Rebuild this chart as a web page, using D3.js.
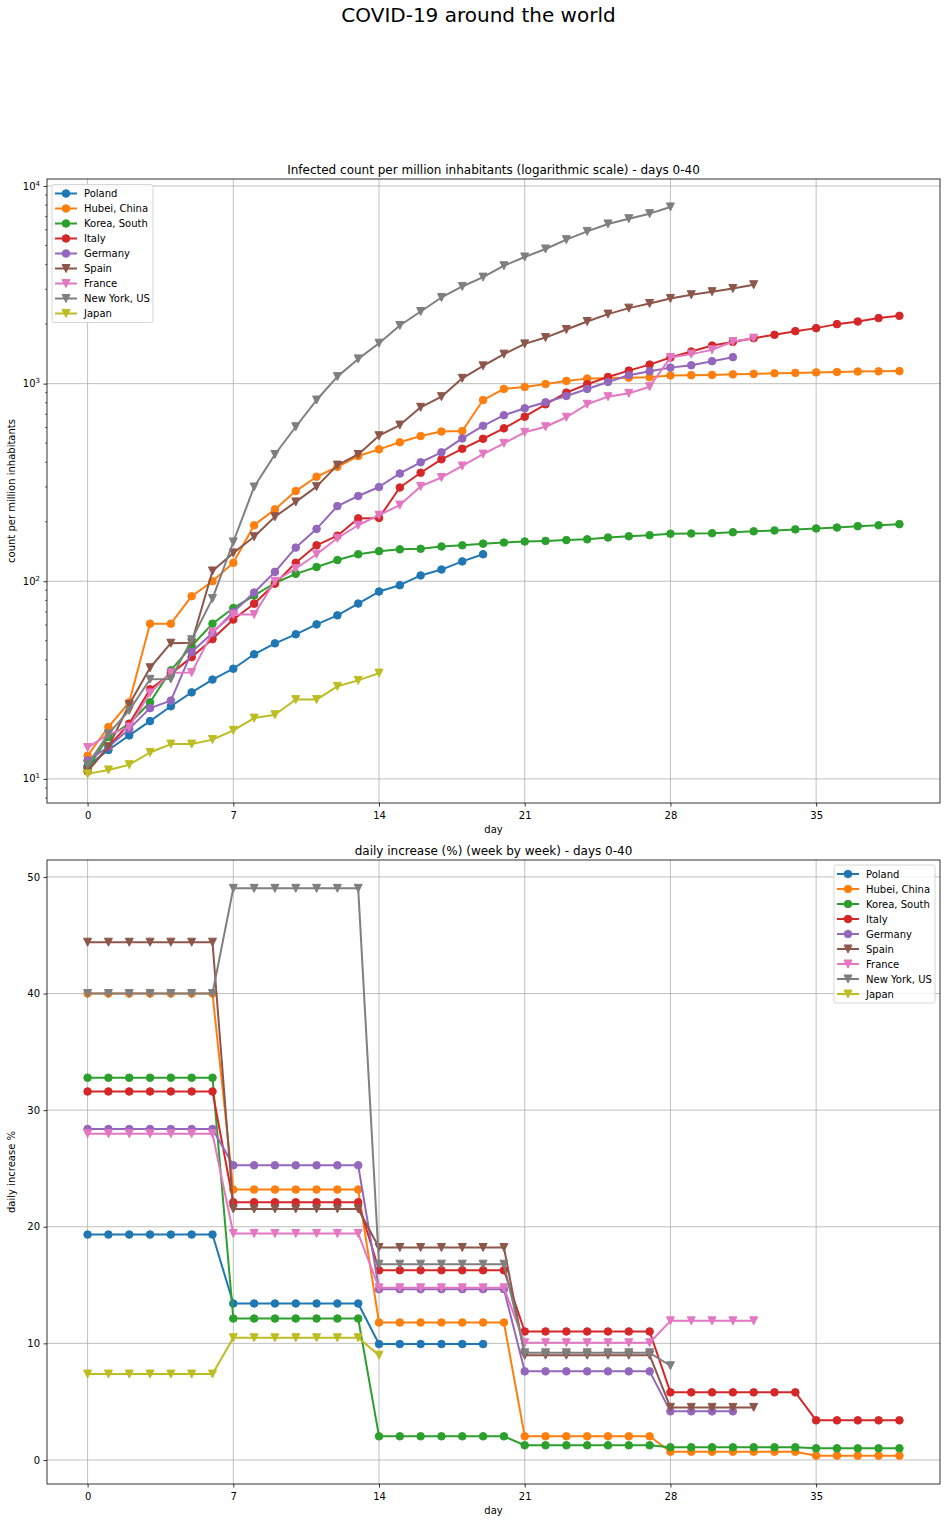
<!DOCTYPE html>
<html><head><meta charset="utf-8">
<script src="https://cdn.jsdelivr.net/npm/d3@7/dist/d3.min.js"></script>
<style>body{margin:0;background:#fff} text{font-family:"DejaVu Sans",sans-serif;fill:#000}</style>
</head><body>
<svg id="chart" width="947" height="1522" xmlns="http://www.w3.org/2000/svg"></svg>
<script>
// ---------------- DATA ----------------
const countries = ["Poland", "Hubei, China", "Korea, South", "Italy", "Germany", "Spain", "France", "New York, US", "Japan"];

// infected count per million inhabitants, index = day
const casesPoland  = [11.6, 14.0, 16.6, 19.6, 23.3, 27.4, 31.8, 36.1, 42.7, 48.5, 53.9, 60.5, 67.2, 77.1, 88.7, 95.5, 107, 114.6, 126, 137];
const casesHubei   = [13.1, 18.3, 24.4, 61.0, 61.0, 84, 100, 124, 192, 231, 286, 338, 379, 430, 465, 505, 543, 572, 576, 826, 940, 962, 995, 1032, 1060, 1068, 1072, 1077, 1100, 1104, 1107, 1114, 1120, 1128, 1133, 1140, 1145, 1151, 1154, 1157];
const casesKorea   = [11.3, 16.3, 19.0, 24.4, 35.4, 47, 61, 73.2, 84.6, 98, 109, 118, 128, 137, 142, 145, 146, 150, 152, 155, 157, 159, 160, 161.5, 163, 166.5, 169, 171, 174, 174.5, 175, 177, 179, 180.7, 183, 185, 187, 190, 192, 194.5];
const casesItaly   = [10.9, 14.6, 19.0, 28.4, 34, 41.3, 51, 64, 77, 97.2, 124, 152, 170, 208, 209, 298, 354, 414, 468, 526, 594, 680, 786, 900, 993, 1081, 1164, 1248, 1355, 1453, 1558, 1626, 1698, 1766, 1843, 1909, 2000, 2062, 2146, 2203];
const casesGermany = [12.4, 14.5, 17.9, 22.8, 24.9, 43.8, 54.7, 69.9, 87.7, 111.5, 148, 184, 240, 270, 300, 351, 400, 449, 528, 612, 692, 750, 805, 866, 940, 1020, 1103, 1156, 1205, 1239, 1299, 1361];
const casesSpain   = [11.0, 14.5, 23.8, 36.5, 48.6, 48.8, 112.7, 139, 168, 212, 252, 301, 387, 438, 545, 617, 759, 859, 1064, 1230, 1410, 1589, 1710, 1878, 2062, 2248, 2410, 2544, 2697, 2816, 2918, 3030, 3165];
const casesFrance  = [14.4, 16.8, 18.3, 27.2, 34.4, 34.5, 55.3, 67.8, 67.9, 100, 116, 137, 165, 192, 216, 243, 302, 335, 383, 440, 499, 567, 605, 676, 786, 859, 893, 965, 1355, 1410, 1482, 1633, 1698];
const casesNewYork = [11.8, 16.9, 22.2, 31.9, 32.0, 50.6, 81.7, 158, 300, 438, 605, 826, 1085, 1334, 1602, 1968, 2317, 2729, 3102, 3459, 3950, 4372, 4800, 5350, 5893, 6426, 6834, 7245, 7834];
const casesJapan   = [10.6, 11.1, 11.8, 13.6, 15.0, 15.0, 15.8, 17.6, 20.3, 21.1, 25.2, 25.2, 29.4, 31.5, 34.3];

// daily increase % (week by week), index = day
const ratePoland  = [19.33, 19.33, 19.33, 19.33, 19.33, 19.33, 19.33, 13.42, 13.42, 13.42, 13.42, 13.42, 13.42, 13.42, 9.94, 9.94, 9.94, 9.94, 9.94, 9.94];
const rateHubei   = [40.0, 40.0, 40.0, 40.0, 40.0, 40.0, 40.0, 23.19, 23.19, 23.19, 23.19, 23.19, 23.19, 23.19, 11.79, 11.79, 11.79, 11.79, 11.79, 11.79, 11.79, 2.03, 2.03, 2.03, 2.03, 2.03, 2.03, 2.03, 0.71, 0.71, 0.71, 0.71, 0.71, 0.71, 0.71, 0.37, 0.37, 0.37, 0.37, 0.37];
const rateKorea   = [32.78, 32.78, 32.78, 32.78, 32.78, 32.78, 32.78, 12.13, 12.13, 12.13, 12.13, 12.13, 12.13, 12.13, 2.03, 2.03, 2.03, 2.03, 2.03, 2.03, 2.03, 1.26, 1.26, 1.26, 1.26, 1.26, 1.26, 1.26, 1.09, 1.09, 1.09, 1.09, 1.09, 1.09, 1.09, 1.0, 1.0, 1.0, 1.0, 1.0];
const rateItaly   = [31.6, 31.6, 31.6, 31.6, 31.6, 31.6, 31.6, 22.1, 22.1, 22.1, 22.1, 22.1, 22.1, 22.1, 16.27, 16.27, 16.27, 16.27, 16.27, 16.27, 16.27, 11.02, 11.02, 11.02, 11.02, 11.02, 11.02, 11.02, 5.8, 5.8, 5.8, 5.8, 5.8, 5.8, 5.8, 3.4, 3.4, 3.4, 3.4, 3.4];
const rateGermany = [28.38, 28.38, 28.38, 28.38, 28.38, 28.38, 28.38, 25.27, 25.27, 25.27, 25.27, 25.27, 25.27, 25.27, 14.65, 14.65, 14.65, 14.65, 14.65, 14.65, 14.65, 7.6, 7.6, 7.6, 7.6, 7.6, 7.6, 7.6, 4.17, 4.17, 4.17, 4.17];
const rateSpain   = [44.4, 44.4, 44.4, 44.4, 44.4, 44.4, 44.4, 21.53, 21.53, 21.53, 21.53, 21.53, 21.53, 21.53, 18.22, 18.22, 18.22, 18.22, 18.22, 18.22, 18.22, 8.99, 8.99, 8.99, 8.99, 8.99, 8.99, 8.99, 4.51, 4.51, 4.51, 4.51, 4.51];
const rateFrance  = [27.98, 27.98, 27.98, 27.98, 27.98, 27.98, 27.98, 19.42, 19.42, 19.42, 19.42, 19.42, 19.42, 19.42, 14.76, 14.76, 14.76, 14.76, 14.76, 14.76, 14.76, 10.05, 10.05, 10.05, 10.05, 10.05, 10.05, 10.05, 11.93, 11.93, 11.93, 11.93, 11.93];
const rateNewYork = [40.0, 40.0, 40.0, 40.0, 40.0, 40.0, 40.0, 49.02, 49.02, 49.02, 49.02, 49.02, 49.02, 49.02, 16.79, 16.79, 16.79, 16.79, 16.79, 16.79, 16.79, 9.19, 9.19, 9.19, 9.19, 9.19, 9.19, 9.19, 8.08];
const rateJapan   = [7.37, 7.37, 7.37, 7.37, 7.37, 7.37, 7.37, 10.48, 10.48, 10.48, 10.48, 10.48, 10.48, 10.48, 8.99];

const dayTicks  = [0, 7, 14, 21, 28, 35];
const logTicks  = [10, 100, 1000, 10000];
const rateTicks = [0, 10, 20, 30, 40, 50];

const casesSeries = [casesPoland, casesHubei, casesKorea, casesItaly, casesGermany, casesSpain, casesFrance, casesNewYork, casesJapan];
const rateSeries  = [ratePoland, rateHubei, rateKorea, rateItaly, rateGermany, rateSpain, rateFrance, rateNewYork, rateJapan];

// ---------------- STYLE ----------------
const colors  = ["#1f77b4", "#ff7f0e", "#2ca02c", "#d62728", "#9467bd", "#8c564b", "#e377c2", "#7f7f7f", "#bcbd22"];
const markers = ["o", "o", "o", "o", "o", "v", "v", "v", "v"];

const W = 947, H = 1522;
const svg = d3.select("#chart");
svg.append("rect").attr("width", W).attr("height", H).attr("fill", "#fff");

svg.append("text").attr("x", 478.5).attr("y", 22).attr("text-anchor", "middle")
  .attr("font-size", 20).text("COVID-19 around the world");

const L = 47, R = 940;
const x1 = d3.scaleLinear().domain([-1.95, 40.95]).range([L, R]);
const top1 = 179, bot1 = 803;
const y1 = d3.scaleLog().domain([7.55, 10850]).range([bot1, top1]);
const top2 = 860, bot2 = 1484;
const x2 = d3.scaleLinear().domain([-1.95, 40.95]).range([L, R]);
const y2 = d3.scaleLinear().domain([-2.06, 51.45]).range([bot2, top2]);

function drawMarker(g, m, cx, cy, col) {
  if (m === "o") {
    g.append("circle").attr("cx", cx).attr("cy", cy).attr("r", 3.8)
      .attr("fill", col).attr("stroke", col).attr("stroke-width", 1);
  } else {
    g.append("path").attr("d", "M-4,-4L4,-4L0,4Z").attr("transform", `translate(${cx},${cy})`)
      .attr("fill", col).attr("stroke", col).attr("stroke-width", 1).attr("stroke-linejoin", "miter");
  }
}

function drawPanel(opt) {
  const { x, y, top, bot, title, ylabel, series, yTicks, log, legendPos } = opt;
  const g = svg.append("g");
  // grid
  dayTicks.forEach(t => g.append("line").attr("x1", x(t)).attr("x2", x(t)).attr("y1", top).attr("y2", bot)
    .attr("stroke", "#b0b0b0").attr("stroke-width", 0.8));
  yTicks.forEach(t => g.append("line").attr("x1", L).attr("x2", R).attr("y1", y(t)).attr("y2", y(t))
    .attr("stroke", "#b0b0b0").attr("stroke-width", 0.8));

  // series
  const clip = "clip" + top;
  svg.append("clipPath").attr("id", clip).append("rect").attr("x", L).attr("y", top).attr("width", R - L).attr("height", bot - top);
  const plot = g.append("g").attr("clip-path", `url(#${clip})`);
  const line = d3.line().x(d => x(d[0])).y(d => y(d[1]));
  series.forEach((arr, i) => {
    const pts = arr.map((v, d) => [d, v]);
    const sg = plot.append("g");
    sg.append("path").datum(pts).attr("d", line).attr("fill", "none")
      .attr("stroke", colors[i]).attr("stroke-width", 2).attr("stroke-linejoin", "round");
    pts.forEach(p => drawMarker(sg, markers[i], x(p[0]), y(p[1]), colors[i]));
  });

  // axes
  const xa = d3.axisBottom(x).tickValues(dayTicks).tickSize(3.5).tickPadding(5).tickFormat(d3.format("d"));
  const gx = g.append("g").attr("transform", `translate(0,${bot})`).call(xa);
  let ya;
  if (log) {
    ya = d3.axisLeft(y).tickValues(yTicks).tickSize(3.5).tickPadding(3.5).tickFormat(() => "");
  } else {
    ya = d3.axisLeft(y).tickValues(yTicks).tickSize(3.5).tickPadding(3.5).tickFormat(d3.format("d"));
  }
  const gy = g.append("g").attr("transform", `translate(${L},0)`).call(ya);
  [gx, gy].forEach(a => {
    a.select(".domain").remove();
    a.selectAll(".tick line").attr("stroke", "#000").attr("stroke-width", 0.8);
    a.selectAll("text").attr("font-size", 10).attr("font-family", "DejaVu Sans").attr("fill", "#000");
  });
  if (log) {
    // minor ticks
    const minors = [];
    [1, 10, 100, 1000].forEach(dec => { for (let k = 2; k <= 9; k++) minors.push(dec * k); });
    minors.filter(v => v >= y.domain()[0] && v <= y.domain()[1]).forEach(v => {
      g.append("line").attr("x1", L - 2).attr("x2", L).attr("y1", y(v)).attr("y2", y(v))
        .attr("stroke", "#000").attr("stroke-width", 0.6);
    });
    yTicks.forEach(t => {
      const tx = g.append("text").attr("x", L - 7).attr("y", y(t) + 3.5).attr("text-anchor", "end").attr("font-size", 10);
      tx.append("tspan").text("10");
      tx.append("tspan").attr("dy", -4).attr("font-size", 7).text(String(Math.round(Math.log10(t))));
    });
  }
  // spines
  g.append("rect").attr("x", L).attr("y", top).attr("width", R - L).attr("height", bot - top)
    .attr("fill", "none").attr("stroke", "#000").attr("stroke-width", 0.8);

  // labels
  g.append("text").attr("x", (L + R) / 2).attr("y", top - 5).attr("text-anchor", "middle").attr("font-size", 12).text(title);
  g.append("text").attr("x", (L + R) / 2).attr("y", bot + 30).attr("text-anchor", "middle").attr("font-size", 10).text("day");
  g.append("text").attr("transform", `translate(15,${(top + bot) / 2}) rotate(-90)`).attr("text-anchor", "middle")
    .attr("font-size", 10).text(ylabel);

  // legend
  const lg = g.append("g").attr("transform", `translate(${legendPos[0]},${legendPos[1]})`);
  lg.append("rect").attr("x", 0).attr("y", 0).attr("width", 101).attr("height", 138).attr("rx", 2)
    .attr("fill", "#fff").attr("fill-opacity", 0.8).attr("stroke", "#cccccc").attr("stroke-width", 0.8);
  countries.forEach((c, i) => {
    const yy = 9 + i * 15;
    lg.append("line").attr("x1", 3).attr("x2", 25).attr("y1", yy).attr("y2", yy).attr("stroke", colors[i]).attr("stroke-width", 2);
    drawMarker(lg, markers[i], 14, yy, colors[i]);
    lg.append("text").attr("x", 32).attr("y", yy + 3.6).attr("font-size", 10).text(c);
  });
}

drawPanel({ x: x1, y: y1, top: top1, bot: bot1, title: "Infected count per million inhabitants (logarithmic scale) - days 0-40",
  ylabel: "count per million inhabitants", series: casesSeries, yTicks: logTicks, log: true, legendPos: [52, 184.5] });
drawPanel({ x: x2, y: y2, top: top2, bot: bot2, title: "daily increase (%) (week by week) - days 0-40",
  ylabel: "daily increase %", series: rateSeries, yTicks: rateTicks, log: false, legendPos: [834, 865] });
</script>
</body></html>
